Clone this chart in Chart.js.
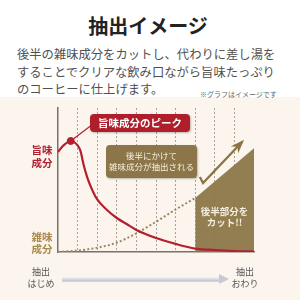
<!DOCTYPE html>
<html><head><meta charset="utf-8">
<script src="https://cdn.jsdelivr.net/npm/chart.js@4"></script>
<style>
html,body{margin:0;padding:0;width:300px;height:300px;overflow:hidden;background:#fff;font-family:"Noto Sans CJK JP","Noto Sans",sans-serif;}
#panel{position:absolute;left:0;top:97px;width:300px;height:203px;background:#fcf5ee;}
#wrap{position:absolute;left:0;top:0;width:300px;height:300px;}
.t{position:absolute;white-space:nowrap;}
#title{left:0;width:296px;top:15px;text-align:center;font-size:20px;line-height:22px;font-weight:700;color:#222;}
#para{left:17px;top:46px;font-size:12.3px;line-height:17.5px;color:#505050;}
#note{left:200px;top:90px;font-size:7px;line-height:9px;color:#666;}
.lab{text-align:center;font-weight:700;}
#l1{left:27px;width:30px;top:143px;font-size:10.5px;line-height:13px;color:#b02030;}
#l2{left:27px;width:30px;top:231px;font-size:10.5px;line-height:12px;color:#a8894e;}
#l3{left:26px;width:30px;top:266px;font-size:9px;line-height:12px;color:#555;font-weight:400;}
#l4{left:230px;width:30px;top:266px;font-size:9px;line-height:12px;color:#555;font-weight:400;}
#b1{left:90px;top:114px;width:100px;height:17.5px;background:#b01e2c;border-radius:4px;color:#fff;font-size:10.5px;line-height:17.5px;text-align:center;font-weight:700;box-shadow:1px 1px 2px rgba(0,0,0,0.25);}
#b2{left:106px;top:145px;width:91px;height:33px;background:#8c7649;border-radius:4px;color:#f5eedc;font-size:8.5px;line-height:11px;text-align:center;padding-top:5px;box-sizing:border-box;box-shadow:1px 1px 2px rgba(0,0,0,0.25);}
#cut{left:199px;width:51px;top:206px;font-size:9.5px;line-height:10.5px;color:#f5eedc;text-align:center;font-weight:700;}
#bar{position:absolute;left:62px;top:277px;width:158px;height:4px;background:linear-gradient(#f4f5f9,#bfc2d0);box-shadow:0 1px 1px rgba(0,0,0,0.15);}
#head{position:absolute;left:219px;top:274px;width:0;height:0;border-left:10px solid #c6c9d6;border-top:5px solid transparent;border-bottom:5px solid transparent;}
</style></head>
<body>
<div id="panel"></div>
<div class="t" id="title">抽出イメージ</div>
<div class="t" id="para">後半の雑味成分をカットし、代わりに差し湯を<br>することでクリアな飲み口ながら旨味たっぷり<br>のコーヒーに仕上げます。</div>
<div class="t" id="note">※グラフはイメージです</div>
<div id="wrap"><canvas id="c" width="300" height="300"></canvas></div>
<div class="t lab" id="l1">旨味<br>成分</div>
<div class="t lab" id="l2">雑味<br>成分</div>
<div class="t lab" id="l3">抽出<br>はじめ</div>
<div class="t lab" id="l4">抽出<br>おわり</div>
<div class="t" id="b1">旨味成分のピーク</div>
<div class="t" id="b2">後半にかけて<br>雑味成分が抽出される</div>
<div class="t" id="cut">後半部分を<br>カット!!</div>
<div id="bar"></div><div id="head"></div>
<script>
const umamiX = [0,0.25,0.65,1.0,1.15,1.3,1.5,1.75,2,2.5,3,3.5,4,5,6,7,8,9,10];
const umami  = [69.4,73.6,77.1,74.0,70.0,61.0,51.5,43.0,36.5,29.2,23.6,19.4,15.3,9.7,5.6,2.4,1.4,0.7,0.35];
const zatsuX = [0,1,2,3,4,5,6,7];
const zatsumi = [0,1,3,6.5,13,21,29.5,37.5];
const cutX = [7,10];
const cutTop = [37.5,72];
const peakX = [0.65];
const peakY = [77.1];
const peakLineX = [0.65,1.72];
const peakLineY = [77.1,88.2];
const arrowX = [7.24,7.40,9.39];
const arrowY = [52.1,47.9,76.4];
const pts = (xs, ys) => xs.map((x,i)=>({x:x,y:ys[i]}));

const arrowHead = {
  id:'arrowHead',
  afterDatasetsDraw(chart){
    const meta = chart.getDatasetMeta(5);
    const p = meta.data;
    const a = p[p.length-2], b = p[p.length-1];
    const ang = Math.atan2(b.y-a.y, b.x-a.x);
    const ctx = chart.ctx, L = 11, W = 5;
    ctx.save();
    ctx.fillStyle = '#8b7444';
    ctx.beginPath();
    ctx.moveTo(b.x + Math.cos(ang)*3, b.y + Math.sin(ang)*3);
    ctx.lineTo(b.x - Math.cos(ang)*L + Math.sin(ang)*W, b.y - Math.sin(ang)*L - Math.cos(ang)*W);
    ctx.lineTo(b.x - Math.cos(ang)*L*0.6, b.y - Math.sin(ang)*L*0.6);
    ctx.lineTo(b.x - Math.cos(ang)*L - Math.sin(ang)*W, b.y - Math.sin(ang)*L + Math.cos(ang)*W);
    ctx.closePath();
    ctx.fill();
    ctx.restore();
  }
};

new Chart(document.getElementById('c'), {
  type:'line',
  data:{datasets:[
    {data:pts(cutX,cutTop), fill:'origin', backgroundColor:'rgba(139,116,70,0.93)', borderWidth:0, pointRadius:0, order:6},
    {data:pts(zatsuX,zatsumi), borderColor:'#9a8762', borderWidth:2, borderDash:[2,2.2], pointRadius:0, cubicInterpolationMode:'monotone', fill:false, order:5},
    {data:pts(umamiX,umami), borderColor:'#b21f2e', borderWidth:2.2, pointRadius:0, cubicInterpolationMode:'monotone', fill:false, order:3},
    {data:pts(peakLineX,peakLineY), borderColor:'#b21f2e', borderWidth:1.2, pointRadius:0, fill:false, order:4},
    {data:pts(peakX,peakY), borderColor:'#b21f2e', backgroundColor:'#b21f2e', pointRadius:3.5, showLine:false, order:2},
    {data:pts(arrowX,arrowY), borderColor:'#8b7444', borderWidth:2.3, pointRadius:0, fill:false, order:1}
  ]},
  options:{
    responsive:false, animation:false, events:[],
    layout:{padding:{left:58,top:108,right:46,bottom:48}, autoPadding:false},
    plugins:{legend:{display:false}, tooltip:{enabled:false}},
    scales:{
      x:{type:'linear', min:0, max:10, ticks:{display:false, stepSize:1},
         grid:{drawTicks:false, lineWidth:1, color:(c)=> (c.tick && (c.tick.value===0||c.tick.value===10)) ? 'rgba(0,0,0,0)' : '#a9a29a'},
         border:{display:true, color:'#787069', width:1.5, dash:[2,2]}},
      y:{min:0, max:100, ticks:{display:false}, grid:{display:false, drawTicks:false},
         border:{display:true, color:'#787069', width:1.5}}
    }
  },
  plugins:[arrowHead]
});
</script>
</body></html>
